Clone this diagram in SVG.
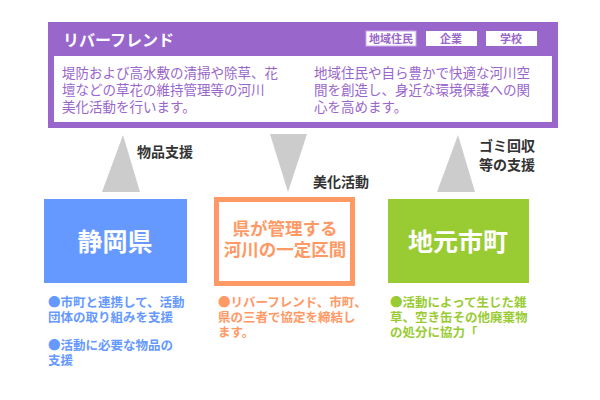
<svg xmlns="http://www.w3.org/2000/svg" width="600" height="400" viewBox="0 0 600 400">
<style>
text{font-family:"Noto Sans CJK JP","Noto Sans",sans-serif;font-weight:bold}
.b{font-size:13.5px;fill:#9966cc;font-weight:normal}
.t{font-size:11px;fill:#9966cc;text-anchor:middle}
.l{font-size:14px;fill:#333}
.s{font-size:12.5px}
.arr{fill:#cccccc}
</style>
<rect width="600" height="400" fill="#fff"/>
<g id="riverfriend">
<rect x="48" y="22" width="510" height="106" fill="#9966cc"/>
<rect x="54" y="56" width="498" height="66" fill="#fff"/>
<text x="63" y="46" font-size="16" fill="#fff">リバーフレンド</text>
<rect x="366" y="31" width="50" height="15" fill="#fff" stroke="#ccaaee"/>
<text class="t" x="391" y="43">地域住民</text>
<rect x="426" y="31" width="51" height="15" fill="#fff"/>
<text class="t" x="451" y="43">企業</text>
<rect x="486" y="31" width="51" height="15" fill="#fff"/>
<text class="t" x="511" y="43">学校</text>
<text class="b" x="62" y="78">堤防および高水敷の清掃や除草、花</text>
<text class="b" x="62" y="95">壇などの草花の維持管理等の河川</text>
<text class="b" x="62" y="112">美化活動を行います。</text>
<text class="b" x="314" y="78">地域住民や自ら豊かで快適な河川空</text>
<text class="b" x="314" y="95">間を創造し、身近な環境保護への関</text>
<text class="b" x="314" y="112">心を高めます。</text>
</g>
<g id="connectors">
<polygon class="arr" points="123,135 140,192 102,192"/>
<polygon class="arr" points="270,134 307,134 288,192"/>
<polygon class="arr" points="458,135 475,192 437,192"/>
<text class="l" x="137" y="157">物品支援</text>
<text class="l" x="313" y="187">美化活動</text>
<text class="l" x="479" y="151">ゴミ回収</text>
<text class="l" x="479" y="170">等の支援</text>
</g>
<g id="shizuoka">
<rect x="44" y="199" width="143" height="84" fill="#6699ff"/>
<text x="115" y="251" font-size="25" fill="#fff" text-anchor="middle">静岡県</text>
<text class="s" fill="#6699ff" x="48" y="307">●市町と連携して、活動</text>
<text class="s" fill="#6699ff" x="48" y="322">団体の取り組みを支援</text>
<text class="s" fill="#6699ff" x="48" y="350">●活動に必要な物品の</text>
<text class="s" fill="#6699ff" x="48" y="365">支援</text>
</g>
<g id="river">
<rect x="216.5" y="199.5" width="136" height="84" fill="#fff" stroke="#ff9966" stroke-width="5"/>
<text x="285" y="235" font-size="17.5" fill="#ff9966" text-anchor="middle">県が管理する</text>
<text x="285" y="256" font-size="17.5" fill="#ff9966" text-anchor="middle">河川の一定区間</text>
<text class="s" fill="#ff9966" x="218" y="307">●リバーフレンド、市町、</text>
<text class="s" fill="#ff9966" x="218" y="322">県の三者で協定を締結し</text>
<text class="s" fill="#ff9966" x="218" y="337">ます。</text>
</g>
<g id="shicho">
<rect x="388" y="199" width="141" height="84" fill="#99cc33"/>
<text x="458" y="251" font-size="25" fill="#fff" text-anchor="middle">地元市町</text>
<text class="s" fill="#99cc33" x="390" y="307">●活動によって生じた雑</text>
<text class="s" fill="#99cc33" x="390" y="322">草、空き缶その他廃棄物</text>
<text class="s" fill="#99cc33" x="390" y="337">の処分に協力「</text>
</g>
</svg>
